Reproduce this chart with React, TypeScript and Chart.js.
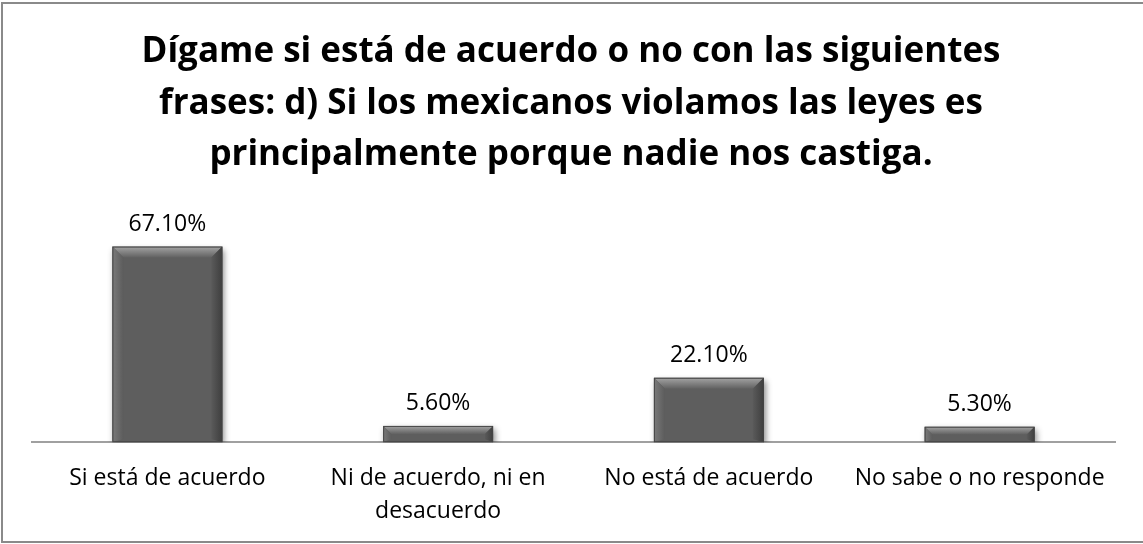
import React, { useEffect, useRef } from "react";
import { Chart, registerables } from "chart.js";

Chart.register(...registerables);

const titleLines = [
  "Dígame si está de acuerdo o no con las siguientes",
  "frases: d) Si los mexicanos violamos las leyes es",
  "principalmente porque nadie nos castiga.",
];
const categories: (string | string[])[] = [
  "Si está de acuerdo",
  ["Ni de acuerdo, ni en", "desacuerdo"],
  "No está de acuerdo",
  "No sabe o no responde",
];
const values = [67.1, 5.6, 22.1, 5.3];

const FONT = "'Open Sans', 'Noto Sans', sans-serif";

const framePlugin = {
  id: "frame",
  beforeDraw(chart: any) {
    const ctx = chart.ctx;
    ctx.save();
    ctx.fillStyle = "#ffffff";
    ctx.fillRect(0, 0, chart.width, chart.height);
    ctx.strokeStyle = "#8a8a8a";
    ctx.lineWidth = 2;
    ctx.strokeRect(2, 3, chart.width + 10, chart.height - 5);
    // title
    ctx.fillStyle = "#000000";
    ctx.font = `bold 35px ${FONT}`;
    ctx.textAlign = "center";
    ctx.textBaseline = "middle";
    const ys = [52, 104, 155];
    titleLines.forEach((t, i) => ctx.fillText(t, 571, ys[i]));
    ctx.restore();
  },
  beforeDatasetsDraw(chart: any) {
    const ctx = chart.ctx;
    ctx.save();
    ctx.shadowColor = "rgba(0,0,0,0.45)";
    ctx.shadowBlur = 6;
    ctx.shadowOffsetX = 2;
    ctx.shadowOffsetY = 3;
  },
  afterDatasetsDraw(chart: any) {
    const ctx = chart.ctx;
    ctx.restore();
    const meta = chart.getDatasetMeta(0);
    ctx.save();
    meta.data.forEach((bar: any, i: number) => {
      const { x, y, base, width } = bar.getProps(["x", "y", "base", "width"], true);
      const l = x - width / 2;
      const r = x + width / 2;
      const h = base - y;
      const bv = Math.min(11, h / 2);
      // top bevel
      let g = ctx.createLinearGradient(0, y, 0, y + bv);
      g.addColorStop(0, "#a4a4a4");
      g.addColorStop(1, "#616161");
      ctx.fillStyle = g;
      ctx.beginPath();
      ctx.moveTo(l, y);
      ctx.lineTo(r, y);
      ctx.lineTo(r - bv, y + bv);
      ctx.lineTo(l + bv, y + bv);
      ctx.closePath();
      ctx.fill();
      // left bevel
      g = ctx.createLinearGradient(l, 0, l + bv, 0);
      g.addColorStop(0, "#7a7a7a");
      g.addColorStop(1, "#5c5c5c");
      ctx.fillStyle = g;
      ctx.beginPath();
      ctx.moveTo(l, y);
      ctx.lineTo(l + bv, y + bv);
      ctx.lineTo(l + bv, base - Math.min(3, bv));
      ctx.lineTo(l, base);
      ctx.closePath();
      ctx.fill();
      // right bevel
      g = ctx.createLinearGradient(r - bv, 0, r, 0);
      g.addColorStop(0, "#5a5a5a");
      g.addColorStop(1, "#3e3e3e");
      ctx.fillStyle = g;
      ctx.beginPath();
      ctx.moveTo(r, y);
      ctx.lineTo(r - bv, y + bv);
      ctx.lineTo(r - bv, base - Math.min(3, bv));
      ctx.lineTo(r, base);
      ctx.closePath();
      ctx.fill();
      ctx.strokeStyle = "#454545";
      ctx.lineWidth = 1;
      ctx.strokeRect(l + 0.5, y + 0.5, width - 1, h - 1);
      // data label
      ctx.fillStyle = "#000000";
      ctx.font = `23px ${FONT}`;
      ctx.textAlign = "center";
      ctx.textBaseline = "alphabetic";
      ctx.fillText(values[i].toFixed(2) + "%", x, y - 16);
    });
    ctx.restore();
  },
};

export default function App() {
  const ref = useRef<HTMLCanvasElement>(null);
  useEffect(() => {
    document.body.style.margin = "0";
    const chart = new Chart(ref.current!, {
      type: "bar",
      data: {
        labels: categories,
        datasets: [
          {
            data: values,
            backgroundColor: "#5e5e5e",
            borderWidth: 0,
            barPercentage: 0.406,
            categoryPercentage: 1,
          },
        ],
      },
      options: {
        responsive: false,
        animation: false,
        layout: { padding: { top: 209, left: 32, right: 28, bottom: -4 } },
        plugins: {
          legend: { display: false },
          title: { display: false },
          tooltip: { enabled: false },
        },
        scales: {
          x: {
            grid: { display: false, drawTicks: false },
            border: { display: true, color: "#a0a0a0", width: 2 },
            ticks: {
              color: "#000000",
              padding: 20,
              font: { family: FONT, size: 23, lineHeight: 1.43 },
              maxRotation: 0,
              autoSkip: false,
            },
          },
          y: { display: false, min: 0, max: 80 },
        },
      },
      plugins: [framePlugin],
    });
    return () => chart.destroy();
  }, []);
  return (
    <div style={{ position: "fixed", left: 0, top: 0, width: 1143, height: 544 }}>
      <canvas ref={ref} width={1143} height={544} />
    </div>
  );
}
